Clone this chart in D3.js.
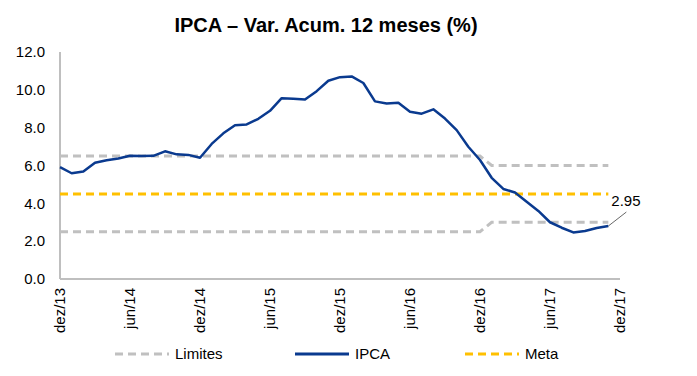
<!DOCTYPE html>
<html><head><meta charset="utf-8">
<script src="https://cdn.jsdelivr.net/npm/d3@7"></script>
<style>
body{margin:0;background:#fff;}
svg{display:block;font-family:"Liberation Sans",Arial,sans-serif;}
</style></head>
<body><svg id="c" width="697" height="376"></svg>
<script>
// Monthly data, dez/13 .. nov/17
const months = ["dez/13","jan/14","fev/14","mar/14","abr/14","mai/14","jun/14","jul/14","ago/14","set/14","out/14","nov/14",
"dez/14","jan/15","fev/15","mar/15","abr/15","mai/15","jun/15","jul/15","ago/15","set/15","out/15","nov/15",
"dez/15","jan/16","fev/16","mar/16","abr/16","mai/16","jun/16","jul/16","ago/16","set/16","out/16","nov/16",
"dez/16","jan/17","fev/17","mar/17","abr/17","mai/17","jun/17","jul/17","ago/17","set/17","out/17","nov/17"];
const ipca = [5.91,5.59,5.68,6.15,6.28,6.37,6.52,6.50,6.51,6.75,6.59,6.56,
6.41,7.14,7.70,8.13,8.17,8.47,8.89,9.56,9.53,9.49,9.93,10.48,
10.67,10.71,10.36,9.39,9.28,9.32,8.84,8.74,8.97,8.48,7.87,6.99,
6.29,5.35,4.76,4.57,4.08,3.60,3.00,2.71,2.46,2.54,2.70,2.80];
const limiteSuperior = [6.5,6.5,6.5,6.5,6.5,6.5,6.5,6.5,6.5,6.5,6.5,6.5,
6.5,6.5,6.5,6.5,6.5,6.5,6.5,6.5,6.5,6.5,6.5,6.5,
6.5,6.5,6.5,6.5,6.5,6.5,6.5,6.5,6.5,6.5,6.5,6.5,
6.5,6.0,6.0,6.0,6.0,6.0,6.0,6.0,6.0,6.0,6.0,6.0];
const limiteInferior = [2.5,2.5,2.5,2.5,2.5,2.5,2.5,2.5,2.5,2.5,2.5,2.5,
2.5,2.5,2.5,2.5,2.5,2.5,2.5,2.5,2.5,2.5,2.5,2.5,
2.5,2.5,2.5,2.5,2.5,2.5,2.5,2.5,2.5,2.5,2.5,2.5,
2.5,3.0,3.0,3.0,3.0,3.0,3.0,3.0,3.0,3.0,3.0,3.0];
const meta = [4.5,4.5,4.5,4.5,4.5,4.5,4.5,4.5,4.5,4.5,4.5,4.5,
4.5,4.5,4.5,4.5,4.5,4.5,4.5,4.5,4.5,4.5,4.5,4.5,
4.5,4.5,4.5,4.5,4.5,4.5,4.5,4.5,4.5,4.5,4.5,4.5,
4.5,4.5,4.5,4.5,4.5,4.5,4.5,4.5,4.5,4.5,4.5,4.5];
const xTickLabels = ["dez/13","jun/14","dez/14","jun/15","dez/15","jun/16","dez/16","jun/17","dez/17"];
const yTicks = [0,2,4,6,8,10,12];
const endLabel = "2.95";

const svg = d3.select("#c");
const x = d3.scaleLinear().domain([0,48]).range([60,620]);
const y = d3.scaleLinear().domain([0,12]).range([279,52]);
const BLUE="#0a3a8f", GOLD="#ffc000", GRAY="#c0c0c0";

// title
svg.append("text").attr("x",326).attr("y",32).attr("text-anchor","middle")
  .attr("font-size",20).attr("font-weight","bold").attr("fill","#000")
  .text("IPCA – Var. Acum. 12 meses (%)");

// y axis labels
svg.append("g").attr("transform","translate(60,0)")
  .call(d3.axisLeft(y).tickValues(yTicks).tickFormat(d3.format(".1f")).tickSize(0).tickPadding(15))
  .call(g=>g.select(".domain").remove())
  .call(g=>g.selectAll("text").attr("font-size",15).attr("fill","#000").attr("font-family","Liberation Sans, Arial, sans-serif"));

// axis lines
svg.append("line").attr("x1",60).attr("x2",60).attr("y1",y(12)).attr("y2",y(0)).attr("stroke","#bfbfbf").attr("stroke-width",2);
svg.append("line").attr("x1",60).attr("x2",x(48)).attr("y1",y(0)).attr("y2",y(0)).attr("stroke","#bfbfbf").attr("stroke-width",2);

// x labels
const xg = svg.append("g");
xTickLabels.forEach((lab,i)=>{
  const xi = x(i*6);
  xg.append("text").attr("transform",`translate(${xi+5},${y(0)+9}) rotate(-90)`)
    .attr("text-anchor","end").attr("font-size",15).attr("fill","#000").text(lab);
});

const line = d3.line().x((d,i)=>x(i)).y(d=>y(d));
const dash = "8,5";
[limiteSuperior,limiteInferior].forEach(arr=>{
  svg.append("path").attr("d",line(arr)).attr("fill","none").attr("stroke",GRAY)
    .attr("stroke-width",3).attr("stroke-dasharray",dash);
});
svg.append("path").attr("d",line(meta)).attr("fill","none").attr("stroke",GOLD)
  .attr("stroke-width",3).attr("stroke-dasharray",dash);
svg.append("path").attr("d",line(ipca)).attr("fill","none").attr("stroke",BLUE)
  .attr("stroke-width",2.5).attr("stroke-linejoin","round");

// end label
const lx = x(ipca.length-1), ly = y(ipca[ipca.length-1]);
svg.append("line").attr("x1",lx).attr("y1",ly).attr("x2",lx+18).attr("y2",ly-14).attr("stroke","#404040").attr("stroke-width",0.8);
svg.append("text").attr("x",lx+3).attr("y",ly-20).attr("font-size",15).attr("fill","#000").text(endLabel);

// legend
const legend = [
  {name:"Limites", color:GRAY, dash:dash, x:115},
  {name:"IPCA", color:BLUE, dash:null, x:295},
  {name:"Meta", color:GOLD, dash:dash, x:465}
];
const ly2 = 354;
legend.forEach(l=>{
  const ln = svg.append("line").attr("x1",l.x).attr("x2",l.x+54).attr("y1",ly2).attr("y2",ly2)
    .attr("stroke",l.color).attr("stroke-width",3);
  if(l.dash) ln.attr("stroke-dasharray",dash);
  svg.append("text").attr("x",l.x+60).attr("y",ly2+5).attr("font-size",15).attr("fill","#000").text(l.name);
});
</script></body></html>
